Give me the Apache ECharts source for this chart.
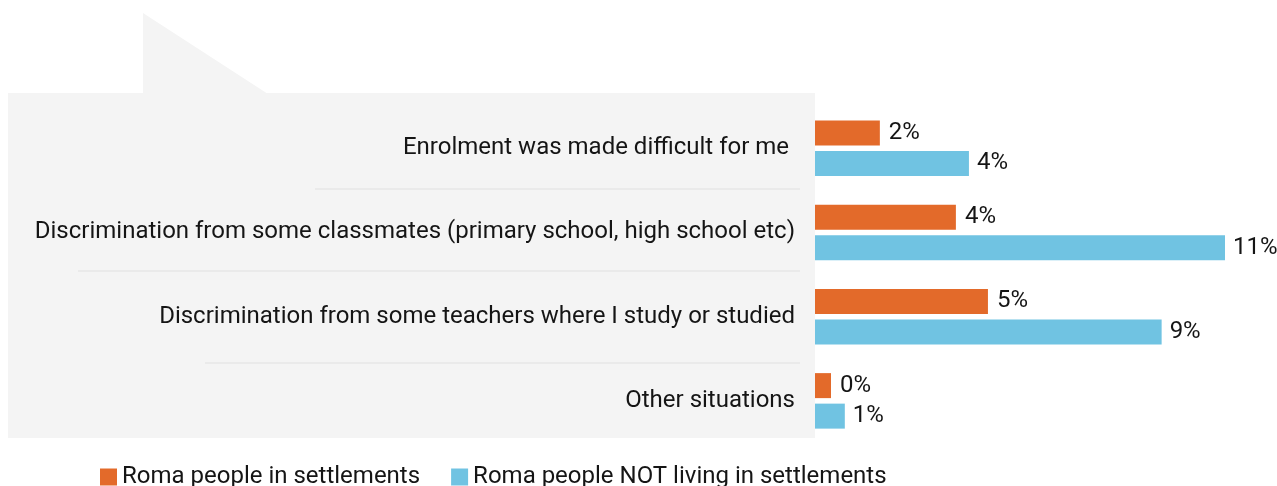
<!DOCTYPE html>
<html><head><meta charset="utf-8">
<script src="https://cdn.jsdelivr.net/npm/echarts@6/dist/echarts.min.js"></script>
<style>html,body{margin:0;padding:0;background:#fff}#c{width:1277px;height:486px}</style>
</head><body><div id="c"></div>
<script>
const categories = [
  "Enrolment was made difficult for me ",
  "Discrimination from some classmates (primary school, high school etc)",
  "Discrimination from some teachers where I study or studied",
  "Other situations"
];
const seriesNames = ["Roma people in settlements", "Roma people NOT living in settlements"];
const inSettlements = [1.74, 3.78, 4.64, 0.43];
const notInSettlements = [4.13, 11.0, 9.3, 0.8];

const chart = echarts.init(document.getElementById('c'));
const font = 'Roboto, "Noto Sans", sans-serif';
const txt = '#151515';
chart.setOption({
  animation: false,
  textStyle: { fontFamily: font },
  graphic: [
    { type: 'rect', z: -10, shape: { x: 8, y: 93, width: 807, height: 345 }, style: { fill: '#f4f4f4' } },
    { type: 'polygon', z: -10, shape: { points: [[143, 13], [143, 94], [268, 94]] }, style: { fill: '#f4f4f4' } },
    { type: 'rect', z: -9, shape: { x: 315, y: 188, width: 485, height: 2 }, style: { fill: '#eaeaea' } },
    { type: 'rect', z: -9, shape: { x: 78, y: 270, width: 722, height: 2 }, style: { fill: '#eaeaea' } },
    { type: 'rect', z: -9, shape: { x: 205, y: 362, width: 595, height: 2 }, style: { fill: '#eaeaea' } }
  ],
  legend: {
    top: 460, left: 95, itemWidth: 17, itemHeight: 17, itemGap: 31,
    icon: 'rect',
    textStyle: { fontSize: 24, color: txt, fontFamily: font },
    data: seriesNames
  },
  grid: { left: 815, right: 52, top: 106, bottom: 43 },
  xAxis: { type: 'value', min: 0, max: 11, show: false },
  yAxis: {
    type: 'category', inverse: true, data: categories,
    axisLine: { show: false }, axisTick: { show: false },
    axisLabel: { fontSize: 24, color: txt, margin: 20, fontFamily: font }
  },
  series: [
    {
      name: seriesNames[0], type: 'bar', data: inSettlements, barWidth: 25, barGap: '22%',
      itemStyle: { color: '#e36a2a' },
      label: { show: true, position: 'right', distance: 9, fontSize: 24, color: txt, fontFamily: font,
        formatter: p => Math.round(p.value) + '%' }
    },
    {
      name: seriesNames[1], type: 'bar', data: notInSettlements, barWidth: 25,
      itemStyle: { color: '#70c3e2' },
      label: { show: true, position: 'right', distance: 8, fontSize: 24, color: txt, fontFamily: font,
        formatter: p => Math.round(p.value) + '%' }
    }
  ]
});
</script></body></html>
